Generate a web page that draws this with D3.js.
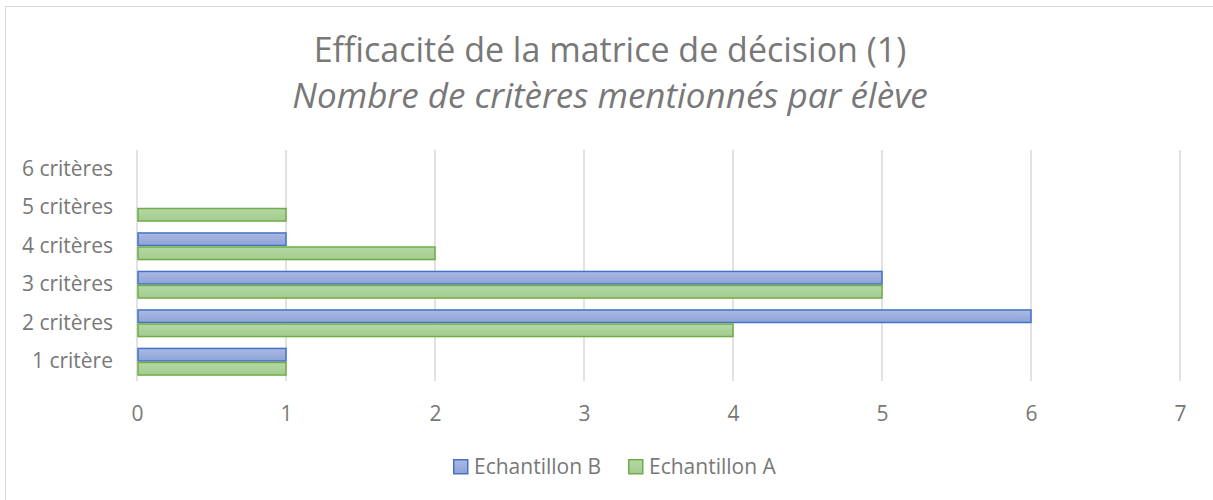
<!DOCTYPE html>
<meta charset="utf-8">
<html>
<head>
<style>
  body { margin: 0; background: #fff; }
  text { font-family: "Open Sans", "Liberation Sans", sans-serif; fill: #787878; }
</style>
</head>
<body>
<div id="my_dataviz"></div>
<script src="https://d3js.org/d3.v7.min.js"></script>
<script>

  // data
  var categories = ["1 critère", "2 critères", "3 critères", "4 critères", "5 critères", "6 critères"];
  var seriesNames = ["Echantillon B", "Echantillon A"];
  var valuesB = [1, 6, 5, 1, 0, 0];
  var valuesA = [1, 4, 5, 2, 1, 0];
  var xTicks = [0, 1, 2, 3, 4, 5, 6, 7];
  var colors = {
    "Echantillon B": { stroke: "#4472c4", top: "#aab9e3", bottom: "#8ea3d8" },
    "Echantillon A": { stroke: "#70ad47", top: "#b5d8a6", bottom: "#a3cb8f" }
  };

  var W = 1213, H = 500;
  var margin = {top: 150, right: 33, bottom: 119, left: 137},
      width = W - margin.left - margin.right,
      height = H - margin.top - margin.bottom;

  var root = d3.select("#my_dataviz")
    .append("svg")
      .attr("width", W)
      .attr("height", H);

  // chart frame (only top/left edges visible in the picture)
  root.append("rect")
    .attr("x", 5.5).attr("y", 6.5)
    .attr("width", W + 20).attr("height", H + 20)
    .attr("fill", "none")
    .attr("stroke", "#d9d9d9");

  // gradients for bars
  var defs = root.append("defs");
  seriesNames.forEach(function(s, i) {
    var g = defs.append("linearGradient")
      .attr("id", "grad" + i)
      .attr("x1", 0).attr("y1", 0).attr("x2", 0).attr("y2", 1);
    g.append("stop").attr("offset", "0%").attr("stop-color", colors[s].top);
    g.append("stop").attr("offset", "100%").attr("stop-color", colors[s].bottom);
  });

  // titles
  root.append("text")
    .attr("x", 610).attr("y", 62)
    .attr("text-anchor", "middle")
    .style("font-size", "34px")
    .text("Efficacité de la matrice de décision (1)");
  root.append("text")
    .attr("x", 610).attr("y", 108)
    .attr("text-anchor", "middle")
    .style("font-size", "35px")
    .style("font-style", "italic")
    .text("Nombre de critères mentionnés par élève");

  var svg = root.append("g")
    .attr("transform", "translate(" + margin.left + "," + margin.top + ")");

  var x = d3.scaleLinear()
    .domain([0, 7])
    .range([0, width]);

  // category 1 at the bottom
  var y = d3.scaleBand()
    .domain(categories.slice().reverse())
    .range([0, height])
    .paddingInner(0.27)
    .paddingOuter(0.135);

  var ySub = d3.scaleBand()
    .domain(seriesNames)
    .range([0, y.bandwidth()]);

  // gridlines
  svg.append("g")
    .selectAll("line")
    .data(xTicks)
    .enter()
    .append("line")
      .attr("x1", function(d) { return x(d) })
      .attr("x2", function(d) { return x(d) })
      .attr("y1", 0)
      .attr("y2", height)
      .attr("stroke", "#d9d9d9")
      .attr("stroke-width", 1.5);

  // x axis labels
  var xAxis = svg.append("g")
    .attr("transform", "translate(0," + height + ")")
    .call(d3.axisBottom(x).tickValues(xTicks).tickFormat(d3.format("d")).tickSize(0).tickPadding(25));
  xAxis.select(".domain").remove();
  xAxis.selectAll("text").style("font-size", "21px").attr("fill", "#787878");

  // y axis labels
  var yAxis = svg.append("g")
    .call(d3.axisLeft(y).tickSize(0).tickPadding(24));
  yAxis.select(".domain").remove();
  yAxis.selectAll("text").style("font-size", "21px").attr("fill", "#787878");

  // bars
  var rows = categories.map(function(c, i) {
    return { cat: c, vals: [
      { s: "Echantillon B", v: valuesB[i], gi: 0 },
      { s: "Echantillon A", v: valuesA[i], gi: 1 }
    ]};
  });

  svg.append("g")
    .selectAll("g")
    .data(rows)
    .enter()
    .append("g")
      .attr("transform", function(d) { return "translate(0," + y(d.cat) + ")" })
    .selectAll("rect")
    .data(function(d) { return d.vals.filter(function(e) { return e.v > 0 }) })
    .enter()
    .append("rect")
      .attr("x", x(0) + 1)
      .attr("y", function(d) { return ySub(d.s) + 0.75 })
      .attr("width", function(d) { return x(d.v) - x(0) - 1 })
      .attr("height", ySub.bandwidth() - 1.5)
      .attr("fill", function(d) { return "url(#grad" + d.gi + ")" })
      .attr("stroke", function(d) { return colors[d.s].stroke })
      .attr("stroke-width", 1.5);

  // legend
  var legendX = [453, 628];
  var legend = root.append("g")
    .selectAll("g")
    .data(seriesNames)
    .enter()
    .append("g")
      .attr("transform", function(d, i) { return "translate(" + legendX[i] + ",459)" });
  legend.append("rect")
    .attr("x", 0.75).attr("y", 0.75)
    .attr("width", 14).attr("height", 14)
    .attr("fill", function(d, i) { return "url(#grad" + i + ")" })
    .attr("stroke", function(d) { return colors[d].stroke })
    .attr("stroke-width", 1.5);
  legend.append("text")
    .attr("x", 21).attr("y", 15)
    .style("font-size", "21px")
    .text(function(d) { return d });

</script>
</body>
</html>
